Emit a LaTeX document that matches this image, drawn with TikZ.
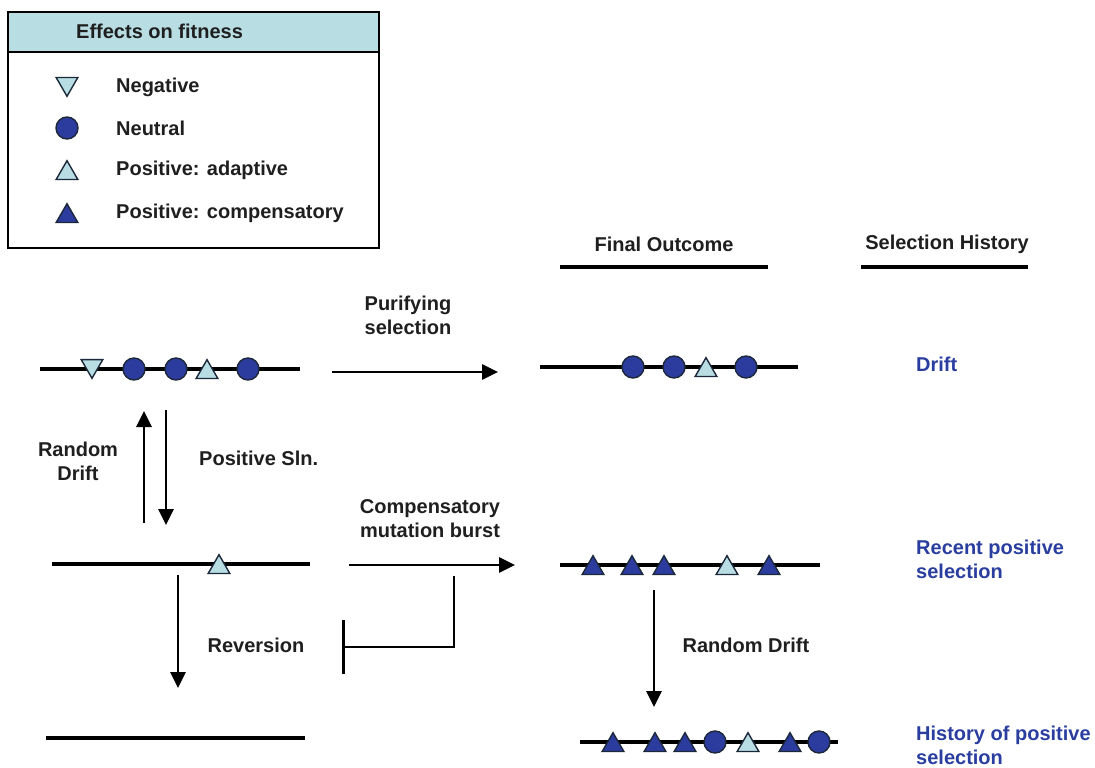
\documentclass[tikz,border=0pt]{standalone}
\usepackage{fontspec}
\setmainfont{Liberation Sans}
\usetikzlibrary{shapes.geometric,arrows.meta}

\definecolor{navy}{RGB}{44,60,158}
\definecolor{pale}{RGB}{184,222,228}
\definecolor{rim}{RGB}{28,40,58}
\definecolor{histblue}{RGB}{42,62,160}

\tikzstyle{neutral}=[circle,draw=rim,fill=navy,line width=1.4pt,minimum size=22pt,inner sep=0pt]
\tikzstyle{tri}=[regular polygon,regular polygon sides=3,draw=rim,line width=1.4pt,minimum size=25pt,inner sep=0pt]
\tikzstyle{adaptive}=[tri,fill=pale,yshift=-3.2pt]
\tikzstyle{compens}=[tri,fill=navy,yshift=-3.2pt]
\tikzstyle{harmful}=[tri,fill=pale,shape border rotate=180,yshift=3.2pt]
\tikzstyle{txt}=[font=\bfseries\fontsize{20}{24}\selectfont,text=black!88,align=center,inner sep=0pt]
\tikzstyle{histtxt}=[txt,text=histblue,align=left,anchor=west]
\tikzstyle{chain}=[line width=3.2pt]
\tikzstyle{flow}=[line width=2.8pt,-{Triangle[length=16pt,width=15pt]}]

\begin{document}
\begin{tikzpicture}[x=1pt,y=-1pt]
			\useasboundingbox[fill=white] (0,0) rectangle (1095,768);
			%The legend box
			\fill[pale] (8,12) rectangle (379,52);
			\draw[line width=1.6pt] (8,12) rectangle (379,248);
			\draw[line width=1.6pt] (8,52) -- (379,52);
			\node[txt,anchor=west] (key) at (76,31) {Effects on fitness};
			\foreach \y/\name/\txt in {87/keyneg/Negative, 128/keyneu/Neutral,
									170/keyada/Positive: adaptive, 213/keycom/Positive: compensatory}
			\node[txt,anchor=west] (\name) at (116,\y) {\txt};
			%Column headers
			\node[txt] (outcome) at (664,244) {Final Outcome};
			\node[txt] (history) at (947,244) {Selection History};
			\draw[chain] (560,267) -- (768,267);
			\draw[chain] (861,267) -- (1028,267);
			%The sequences
			\foreach \from/\to in {{(40,369)/(300,369)}, {(540,367)/(798,367)},
									{(52,564)/(310,564)}, {(46,738)/(305,738)},
									{(560,565)/(820,565)}, {(580,742)/(838,742)}}
			\draw[chain] \from -- \to;
			%Negative sites
			\foreach \pos/\name in 	{{(67,87)/k1},	{(92,369)/a1}}
			\node[harmful] (\name) at \pos {};
			%Neutral sites
			\foreach \pos/\name in 	{{(67,128)/k2},	{(134,369)/a2},	{(176,369)/a3},	{(248,369)/a5},
									 {(633,367)/p1},	{(674,367)/p2},	{(746,367)/p4},
									 {(715,742)/l4},	{(819,742)/l7}}
			\node[neutral] (\name) at \pos {};
			%Adaptive sites
			\foreach \pos/\name in 	{{(67,170)/k3},	{(207,369)/a4},	{(706,367)/p3},
									 {(219,564)/f1},	{(727,565)/b4},	{(748,742)/l5}}
			\node[adaptive] (\name) at \pos {};
			%Compensatory sites
			\foreach \pos/\name in 	{{(67,213)/k4},	{(593,565)/b1},	{(632,565)/b2},	{(664,565)/b3},
									 {(769,565)/b5},	{(613,742)/l1},	{(655,742)/l2},	{(685,742)/l3},
									 {(790,742)/l6}}
			\node[compens] (\name) at \pos {};
			%Arrow ends
			\coordinate (purfrom) at (332,372);	\coordinate (purto) at (498,372);
			\coordinate (upfrom) at (144,523);	\coordinate (upto) at (144,411);
			\coordinate (dnfrom) at (166,410);	\coordinate (dnto) at (166,525);
			\coordinate (revfrom) at (178,575);	\coordinate (revto) at (178,688);
			\coordinate (cmbfrom) at (349,565);	\coordinate (cmbto) at (515,565);
			\coordinate (blkfrom) at (454,576);	\coordinate (blkto) at (342,647);
			\coordinate (rdfrom) at (654,590);	\coordinate (rdto) at (654,707);
			\draw[flow] (purfrom) -- (purto);
			\draw[flow] (upfrom) -- (upto);
			\draw[flow] (dnfrom) -- (dnto);
			\draw[flow] (revfrom) -- (revto);
			\draw[flow] (cmbfrom) -- (cmbto);
			\draw[flow] (rdfrom) -- (rdto);
			\draw[line width=2.8pt,-{Bar[width=54pt,line width=2.8pt]}] (blkfrom) |- (blkto);
			%Arrow texts
			\node[txt] (purlab) at (408,315) {Purifying\\selection};
			\node[txt] (uplab) at (78,461) {Random\\Drift};
			\node[txt,anchor=west] (dnlab) at (199,458) {Positive Sln.};
			\node[txt] (cmblab) at (430,519) {Compensatory\\mutation burst};
			\node[txt] (revlab) at (256,645) {Reversion};
			\node[txt] (rdlab) at (746,645) {Random Drift};
			%Selection history
			\node[histtxt] (drift) at (916,364) {Drift};
			\node[histtxt] (recent) at (916,559) {Recent positive\\selection};
			\node[histtxt] (past) at (916,745) {History of positive\\selection};
		\end{tikzpicture}
\end{document}
